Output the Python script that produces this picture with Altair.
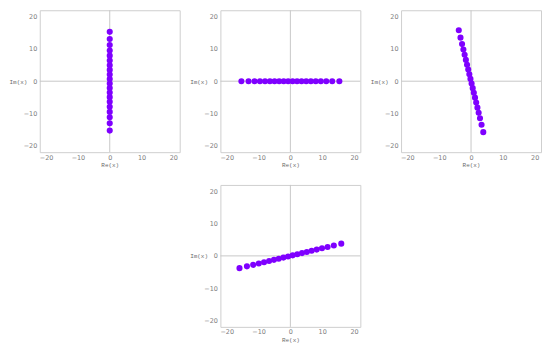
import altair as alt
import pandas as pd

# values
r_vals = [-15.3, -13.07, -11.2, -9.51, -7.92, -6.4, -4.94, -3.5, -2.09, -0.7,
          0.7, 2.09, 3.5, 4.94, 6.4, 7.92, 9.51, 11.2, 13.07, 15.3]
zeros = [0.0] * 20

re1 = zeros
im1 = r_vals

re2 = [-15.4, -13.15, -11.27, -9.57, -7.97, -6.44, -4.97, -3.52, -2.1, -0.7,
       0.7, 2.1, 3.52, 4.97, 6.44, 7.97, 9.57, 11.27, 13.15, 15.4]
im2 = zeros

re3 = [3.85, 3.31, 2.82, 2.40, 2.01, 1.62, 1.25, 0.88, 0.53, 0.18,
       -0.18, -0.53, -0.88, -1.25, -1.62, -2.01, -2.40, -2.82, -3.31, -3.85]
im3 = [-15.8, -13.5, -11.5, -9.8, -8.2, -6.6, -5.1, -3.6, -2.15, -0.72,
       0.72, 2.15, 3.6, 5.1, 6.6, 8.2, 9.8, 11.5, 13.5, 15.8]

re4 = [-16.0, -13.66, -11.7, -9.94, -8.28, -6.69, -5.16, -3.66, -2.18, -0.73,
       0.73, 2.18, 3.66, 5.16, 6.69, 8.28, 9.94, 11.7, 13.66, 16.0]
im4 = [-3.79, -3.24, -2.77, -2.36, -1.96, -1.59, -1.22, -0.87, -0.52, -0.17,
       0.17, 0.52, 0.87, 1.22, 1.59, 1.96, 2.36, 2.77, 3.24, 3.79]

tick_vals = [-20, -10, 0, 10, 20]
domain = [-22, 22]

W, H = 141, 143
PURPLE = "#7f00ff"
GRID = "#c8c8c8"


def axes(visible=True):
    lc = "#808080" if visible else "transparent"
    tc = "#6a6a6a" if visible else "transparent"
    common = dict(values=tick_vals, tickCount=5, ticks=False, domain=False, grid=False,
                  labelOverlap=False, labelFlush=False,
                  labelFontSize=6.5, labelColor=lc,
                  labelFont="DejaVu Sans", titleFontSize=6, titleColor=tc,
                  titleFont="Liberation Mono", titleFontWeight="normal")
    ax = alt.Axis(title="Re(x)", labelPadding=2, titlePadding=1, **common)
    ay = alt.Axis(title="Im(x)", labelPadding=3, titleAngle=0, titleAlign="right",
                  titleBaseline="middle", titleX=-13, titleY=H / 2, **common)
    return ax, ay


def panel(re, im, visible=True):
    df = pd.DataFrame({"re": re, "im": im})
    xs = alt.Scale(domain=domain, nice=False)
    ys = alt.Scale(domain=domain, nice=False)
    ax, ay = axes(visible)
    pts = alt.Chart(df).mark_circle(size=38, color=PURPLE, opacity=1 if visible else 0).encode(
        x=alt.X("re:Q", scale=xs, axis=ax),
        y=alt.Y("im:Q", scale=ys, axis=ay),
    )
    if not visible:
        return pts.properties(width=W, height=H, view=alt.ViewBackground(stroke="transparent"))
    zero = pd.DataFrame({"v": [0]})
    vr = alt.Chart(zero).mark_rule(color=GRID, strokeWidth=1).encode(
        x=alt.X("v:Q", scale=xs, axis=ax))
    hr = alt.Chart(zero).mark_rule(color=GRID, strokeWidth=1).encode(
        y=alt.Y("v:Q", scale=ys, axis=ay))
    return alt.layer(vr, hr, pts).properties(width=W, height=H)


p1 = panel(re1, im1)
p2 = panel(re2, im2)
p3 = panel(re3, im3)
p4 = panel(re4, im4)
blank = panel(re1, im1, visible=False)

top = alt.hconcat(p1, p2, p3, spacing=8)
bottom = alt.hconcat(blank, p4, spacing=8)

chart = alt.vconcat(top, bottom, spacing=16).properties(
    padding=0, background="white"
).configure_view(stroke="#cfcfcf", strokeWidth=1)

chart.save("out.html", embed_options={"renderer": "svg", "actions": False})
